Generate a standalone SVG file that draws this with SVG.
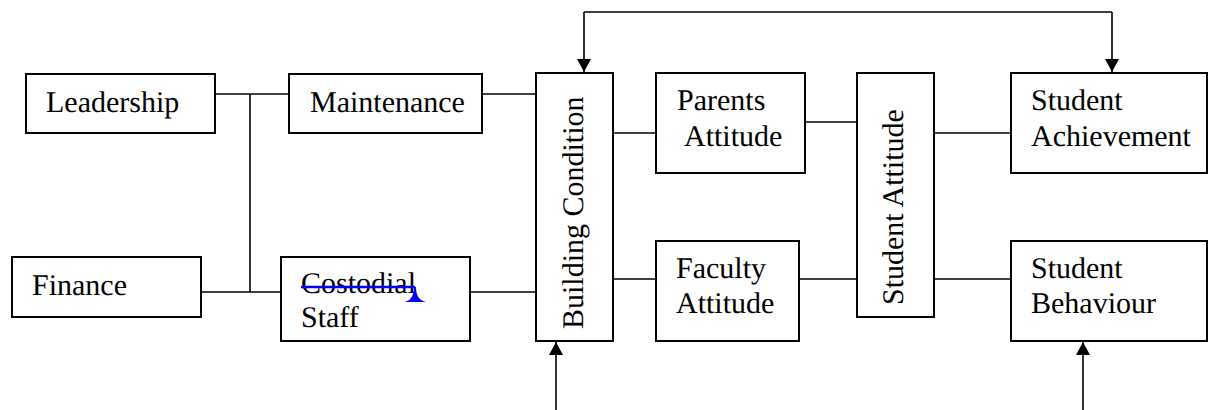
<svg xmlns="http://www.w3.org/2000/svg" width="1224" height="410" viewBox="0 0 1224 410">
<style>
.box{fill:#fff;stroke:#000;stroke-width:2}
.t{font-family:"Liberation Serif","Times New Roman",Times,serif;font-size:30px;fill:#000;text-rendering:geometricPrecision}
.c{fill:none;stroke:#000;stroke-width:1.6}
</style>
<defs>
<marker id="ah" markerWidth="14" markerHeight="14" refX="13" refY="7" orient="auto" markerUnits="userSpaceOnUse">
<path d="M0,0 L13,7 L0,14 Z" fill="#000"/>
</marker>
</defs>
<rect width="1224" height="410" fill="#fff"/>
<g id="connectors">
<path class="c" d="M215,94 H289"/>
<path class="c" d="M201,292 H281"/>
<path class="c" d="M250,94 V292"/>
<path class="c" d="M482,94 H536"/>
<path class="c" d="M470,292 H536"/>
<path class="c" d="M613,133 H656"/>
<path class="c" d="M613,279 H656"/>
<path class="c" d="M803,122 H857"/>
<path class="c" d="M800,279 H857"/>
<path class="c" d="M934,133 H1011"/>
<path class="c" d="M934,279 H1011"/>
<path class="c" d="M584,12 H1112" stroke-width="2"/>
<path class="c" d="M584,12 V72" stroke-width="2" marker-end="url(#ah)"/>
<path class="c" d="M1112,12 V72" stroke-width="2" marker-end="url(#ah)"/>
<path class="c" d="M556,410 V342" stroke-width="2" marker-end="url(#ah)"/>
<path class="c" d="M1083,410 V342" stroke-width="2" marker-end="url(#ah)"/>
</g>
<g id="leadership"><rect class="box" x="26" y="74" width="189" height="59"/><text class="t" x="46" y="112">Leadership</text></g>
<g id="maintenance"><rect class="box" x="289" y="74" width="193" height="59"/><text class="t" x="310" y="112">Maintenance</text></g>
<g id="finance"><rect class="box" x="12" y="257" width="189" height="60"/><text class="t" x="32" y="295">Finance</text></g>
<g id="custodial"><rect class="box" x="281" y="257" width="189" height="84"/><text class="t" x="301" y="293">Costodial</text><text class="t" x="301" y="327">Staff</text>
<path d="M301,287 H415" stroke="#0000ff" stroke-width="2.5" fill="none"/>
<path d="M414,287 L416,287 Q416,300 426,302 L405,302 Q414,300 414,287 Z" fill="#0000ff"/></g>
<g id="building"><rect class="box" x="536" y="73" width="77" height="268"/><text class="t" transform="translate(583,329) rotate(-90)">Building Condition</text></g>
<g id="parents"><rect class="box" x="656" y="73" width="149" height="100"/><text class="t" x="677" y="110">Parents</text><text class="t" x="684" y="146">Attitude</text></g>
<g id="faculty"><rect class="box" x="656" y="241" width="143" height="100"/><text class="t" x="676" y="278">Faculty</text><text class="t" x="676" y="313">Attitude</text></g>
<g id="studentattitude"><rect class="box" x="857" y="73" width="77" height="244"/><text class="t" transform="translate(903,305) rotate(-90)">Student Attitude</text></g>
<g id="achievement"><rect class="box" x="1011" y="73" width="196" height="100"/><text class="t" x="1031" y="110">Student</text><text class="t" x="1031" y="146">Achievement</text></g>
<g id="behaviour"><rect class="box" x="1011" y="241" width="196" height="100"/><text class="t" x="1031" y="278">Student</text><text class="t" x="1031" y="313">Behaviour</text></g>
</svg>
